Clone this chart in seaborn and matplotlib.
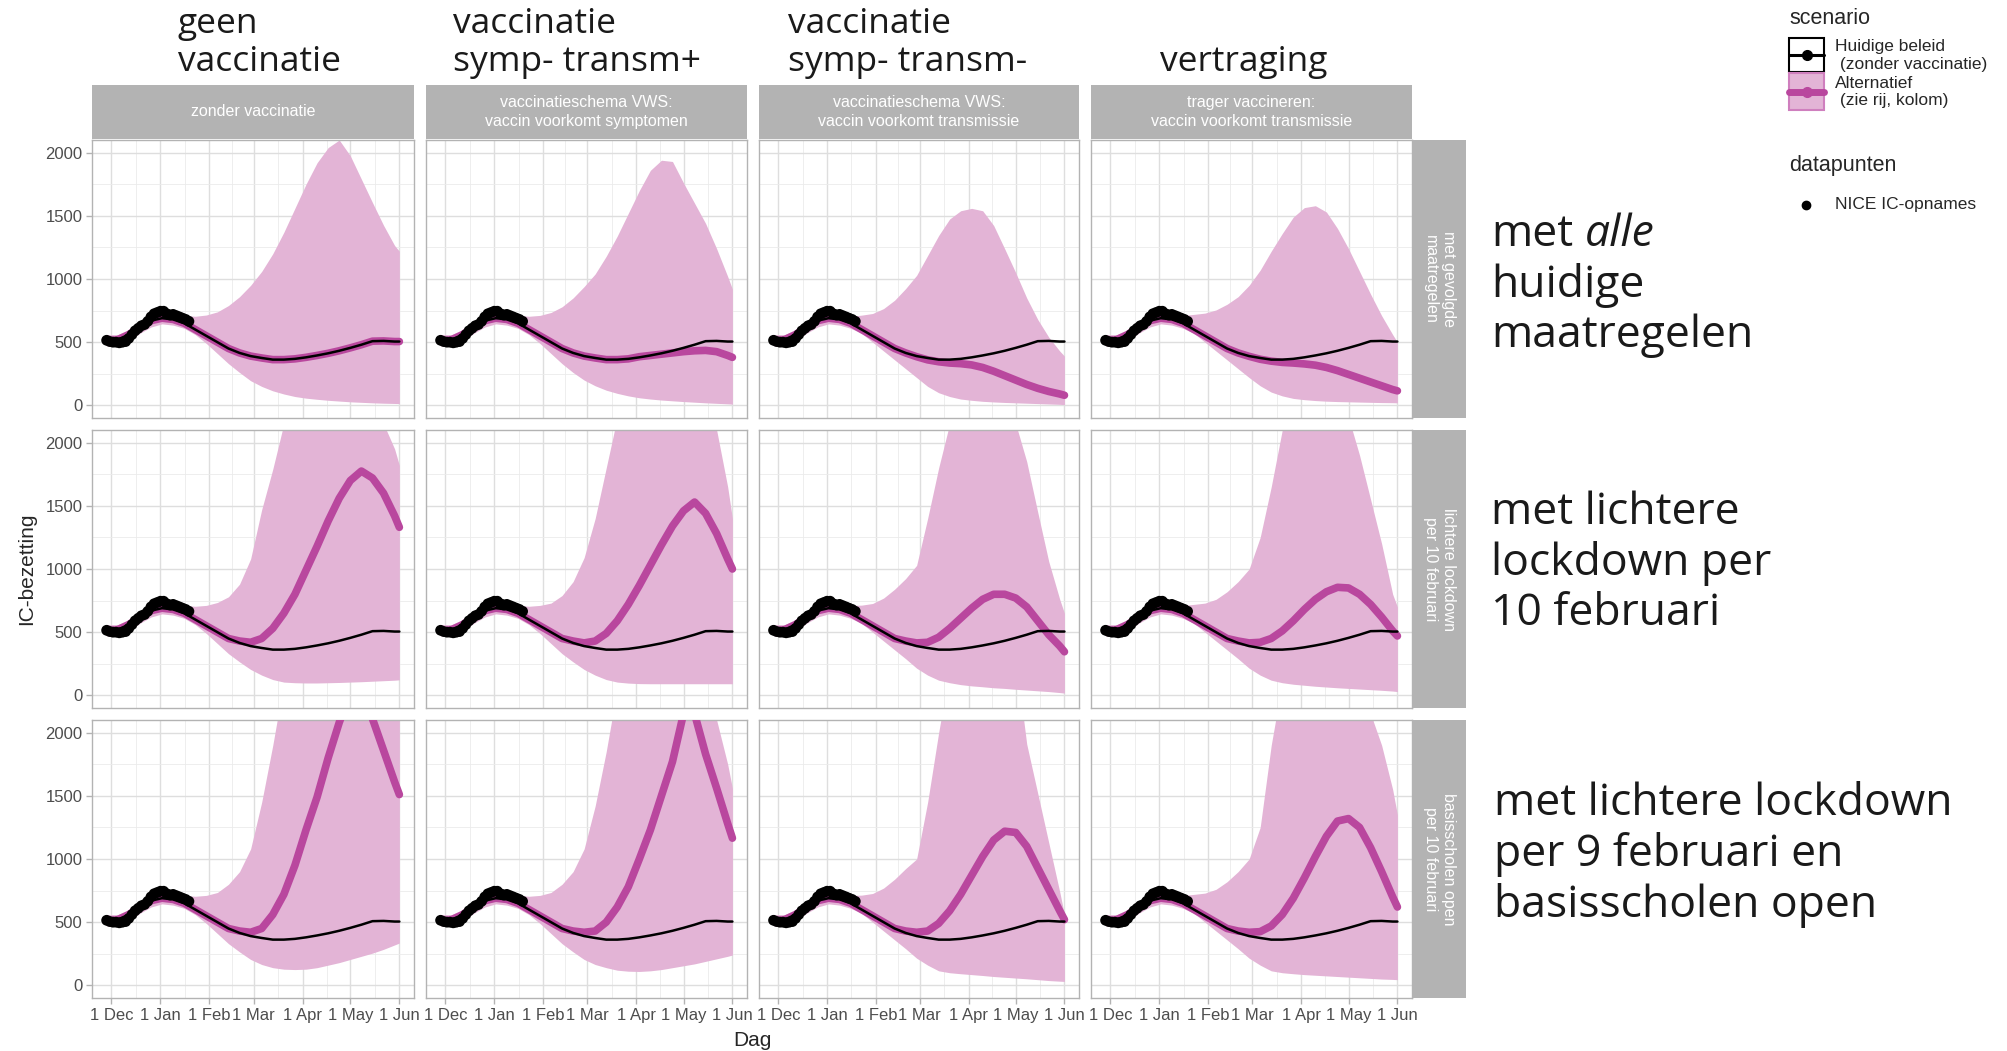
"""
IC-bezetting scenario's: 3 x 4 facetten, band + mediaan + NICE-punten.
"""
import numpy as np
import pandas as pd
import matplotlib
matplotlib.use("Agg")
import matplotlib.pyplot as plt
import matplotlib.patches as mpatches
import seaborn as sns

W, H = 2007, 1051
BAND = "#E3B4D6"
ALT = "#B9479E"
STRIP = "#B3B3B3"
BORDER = "#B3B3B3"

# ---- data ---------------------------------------------------------------
dates = pd.to_datetime([
    "2020-11-28", "2020-12-05", "2020-12-12", "2020-12-19", "2020-12-26",
    "2021-01-02", "2021-01-09", "2021-01-16", "2021-01-23", "2021-01-30",
    "2021-02-06", "2021-02-13", "2021-02-20", "2021-02-27", "2021-03-06",
    "2021-03-13", "2021-03-20", "2021-03-27", "2021-04-03", "2021-04-10",
    "2021-04-17", "2021-04-24", "2021-05-01", "2021-05-08", "2021-05-15",
    "2021-05-22", "2021-05-29", "2021-06-01"])

black_line = [510, 520, 560, 620, 670, 690, 680, 650, 600, 550, 500, 450, 415, 390,
              375, 362, 362, 368, 380, 395, 412, 432, 455, 480, 508, 510, 505, 505]

nice_values = [515, 505, 500, 500, 495, 500, 505, 530, 560, 590, 610, 630, 640, 665,
               700, 725, 735, 745, 745, 725, 715, 720, 710, 700, 690, 680, 665]
nice_dates = pd.date_range("2020-11-28", periods=len(nice_values), freq="2D")

# rij 1: met gevolgde maatregelen
hi_11 = [560, 560, 600, 665, 715, 735, 725, 712, 705, 715, 740, 790, 860, 950, 1060, 1200,
         1370, 1560, 1750, 1920, 2040, 2100, 1975, 1790, 1605, 1425, 1265, 1220]
lo_11 = [470, 470, 510, 570, 620, 645, 635, 610, 560, 490, 410, 330, 260, 195, 150, 115,
         90, 70, 57, 48, 40, 34, 28, 24, 20, 17, 15, 14]
alt_11 = black_line
hi_12 = [560, 560, 600, 665, 715, 735, 725, 712, 705, 712, 735, 780, 850, 940, 1040, 1180,
         1340, 1520, 1700, 1860, 1940, 1930, 1760, 1600, 1440, 1240, 1020, 920]
lo_12 = [470, 470, 510, 570, 620, 645, 635, 610, 560, 490, 410, 330, 260, 200, 155, 120,
         95, 75, 60, 50, 42, 36, 30, 25, 20, 16, 12, 10]
alt_12 = black_line[:18] + [385, 395, 405, 415, 425, 432, 435, 425, 395, 380]
hi_13 = [560, 560, 600, 665, 715, 735, 725, 705, 714, 727, 766, 832, 924, 1029, 1186, 1344,
         1475, 1540, 1559, 1540, 1423, 1239, 1050, 850, 680, 540, 430, 390]
lo_13 = [470, 470, 510, 570, 620, 645, 635, 610, 570, 500, 430, 360, 290, 220, 150, 100,
         70, 50, 40, 32, 27, 23, 20, 17, 14, 11, 8, 6]
alt_13 = black_line[:13] + [385, 360, 345, 335, 330, 320, 300, 270, 235, 200, 165, 135,
                            110, 90, 80]
hi_14 = [560, 560, 600, 665, 715, 735, 725, 712, 720, 730, 755, 800, 860, 950, 1070, 1220,
         1360, 1490, 1565, 1580, 1530, 1400, 1240, 1060, 880, 710, 560, 500]
lo_14 = [470, 470, 510, 570, 620, 645, 635, 610, 570, 500, 430, 360, 290, 220, 155, 105,
         75, 55, 45, 38, 33, 30, 28, 26, 24, 22, 21, 20]
alt_14 = black_line[:13] + [388, 365, 350, 340, 335, 328, 318, 300, 275, 245, 215, 185,
                            155, 125, 115]

# rij 2: lichtere lockdown per 10 februari
hi_21 = [560, 560, 600, 665, 715, 735, 725, 712, 705, 712, 735, 780, 880, 1080, 1470, 1790,
         2150, 2600, 3000, 3300, 3500, 3500, 3300, 2900, 2500, 2150, 1950, 1820]
lo_21 = [470, 470, 510, 570, 620, 645, 635, 610, 560, 490, 410, 330, 265, 205, 160, 125,
         105, 100, 98, 98, 100, 102, 105, 108, 112, 116, 120, 123]
alt_21 = black_line[:12] + [430, 420, 450, 530, 650, 800, 990, 1180, 1380, 1560, 1700,
                            1775, 1720, 1600, 1420, 1330]
hi_22 = [560, 560, 600, 665, 715, 735, 725, 712, 705, 712, 730, 790, 900, 1090, 1400, 1800,
         2200, 2600, 3000, 3300, 3400, 3300, 3000, 2600, 2300, 2100, 1650, 1400]
lo_22 = [470, 470, 510, 570, 620, 645, 635, 610, 560, 490, 410, 330, 265, 205, 160, 125,
         105, 97, 93, 92, 92, 92, 92, 92, 92, 92, 92, 92]
alt_22 = black_line[:12] + [430, 415, 430, 490, 590, 720, 870, 1030, 1190, 1340, 1460,
                            1530, 1440, 1280, 1080, 1000]
hi_23 = [560, 560, 600, 665, 715, 735, 725, 712, 714, 727, 770, 840, 924, 1029, 1400, 1800,
         2150, 2600, 3000, 3200, 3100, 2700, 2150, 1850, 1450, 1060, 760, 650]
lo_23 = [470, 470, 510, 570, 620, 645, 635, 610, 570, 500, 430, 360, 290, 215, 160, 120,
         100, 85, 75, 68, 60, 55, 48, 42, 36, 30, 22, 18]
alt_23 = black_line[:12] + [430, 415, 420, 460, 530, 610, 690, 760, 800, 800, 770, 700,
                            590, 480, 390, 345]
hi_24 = [560, 560, 600, 665, 715, 735, 725, 712, 720, 730, 760, 820, 900, 1000, 1250, 1650,
         2100, 2600, 3000, 3200, 3100, 2800, 2200, 1900, 1550, 1200, 800, 700]
lo_24 = [470, 470, 510, 570, 620, 645, 635, 610, 570, 500, 430, 360, 290, 215, 160, 120,
         100, 88, 80, 72, 66, 60, 55, 50, 45, 40, 34, 30]
alt_24 = black_line[:12] + [430, 415, 420, 450, 510, 590, 680, 760, 820, 855, 850, 800,
                            720, 620, 510, 470]

# rij 3: basisscholen open per 10 februari
hi_31 = [560, 560, 600, 665, 715, 735, 725, 712, 705, 712, 735, 800, 900, 1080, 1450, 1900,
         2400, 2900, 3300, 3600, 3800, 3900, 3900, 3800, 3700, 3500, 3300, 3200]
lo_31 = [470, 470, 510, 570, 620, 645, 635, 610, 560, 490, 410, 330, 265, 205, 165, 140,
         128, 125, 128, 140, 160, 180, 205, 230, 255, 285, 320, 335]
alt_31 = black_line[:12] + [430, 420, 450, 560, 720, 950, 1230, 1490, 1800, 2080, 2320,
                            2330, 2110, 1860, 1610, 1510]
hi_32 = [560, 560, 600, 665, 715, 735, 725, 712, 705, 712, 735, 800, 900, 1080, 1420, 1850,
         2350, 2800, 3200, 3400, 3500, 3400, 3200, 2900, 2500, 2100, 1750, 1560]
lo_32 = [470, 470, 510, 570, 620, 645, 635, 610, 560, 490, 410, 330, 265, 205, 165, 140,
         120, 112, 110, 115, 125, 140, 155, 170, 190, 210, 230, 240]
alt_32 = black_line[:12] + [430, 420, 430, 500, 620, 780, 1000, 1230, 1500, 1770, 2150,
                            2150, 1830, 1560, 1280, 1165]
hi_33 = [560, 560, 600, 665, 715, 735, 725, 712, 714, 727, 770, 840, 924, 1000, 1450, 2000,
         2500, 2900, 3200, 3400, 3400, 3100, 2600, 1910, 1520, 1130, 740, 560]
lo_33 = [470, 470, 510, 570, 620, 645, 635, 610, 570, 500, 430, 360, 290, 215, 160, 115,
         100, 92, 85, 78, 70, 64, 58, 52, 45, 38, 33, 31]
alt_33 = black_line[:12] + [430, 420, 430, 490, 590, 720, 870, 1020, 1150, 1220, 1210,
                            1100, 930, 760, 590, 520]
hi_34 = [560, 560, 600, 665, 715, 735, 725, 712, 720, 730, 760, 820, 900, 1000, 1250, 1900,
         2400, 2800, 3100, 3300, 3400, 3300, 3000, 2600, 2150, 1900, 1550, 1350]
lo_34 = [470, 470, 510, 570, 620, 645, 635, 610, 570, 500, 430, 360, 290, 215, 160, 115,
         100, 92, 85, 80, 75, 70, 65, 60, 55, 50, 47, 45]
alt_34 = black_line[:12] + [430, 420, 425, 470, 560, 690, 850, 1020, 1180, 1300, 1320,
                            1250, 1090, 900, 700, 620]

tick_dates = pd.to_datetime(["2020-12-01", "2021-01-01", "2021-02-01", "2021-03-01",
                             "2021-04-01", "2021-05-01", "2021-06-01"])
tick_labels = ["1 Dec", "1 Jan", "1 Feb", "1 Mar", "1 Apr", "1 May", "1 Jun"]
y_ticks = [0, 500, 1000, 1500, 2000]
y_minor = [250, 750, 1250, 1750]

col_titles = ["zonder vaccinatie",
              "vaccinatieschema VWS:\nvaccin voorkomt symptomen",
              "vaccinatieschema VWS:\nvaccin voorkomt transmissie",
              "trager vaccineren:\nvaccin voorkomt transmissie"]
row_titles = ["met gevolgde\nmaatregelen",
              "lichtere lockdown\nper 10 februari",
              "basisscholen open\nper 10 februari"]

panels = {
    (0, 0): (lo_11, hi_11, alt_11), (0, 1): (lo_12, hi_12, alt_12),
    (0, 2): (lo_13, hi_13, alt_13), (0, 3): (lo_14, hi_14, alt_14),
    (1, 0): (lo_21, hi_21, alt_21), (1, 1): (lo_22, hi_22, alt_22),
    (1, 2): (lo_23, hi_23, alt_23), (1, 3): (lo_24, hi_24, alt_24),
    (2, 0): (lo_31, hi_31, alt_31), (2, 1): (lo_32, hi_32, alt_32),
    (2, 2): (lo_33, hi_33, alt_33), (2, 3): (lo_34, hi_34, alt_34),
}

# ---- layout (pixels) ----------------------------------------------------
col_x = [(92, 414), (426, 747), (759, 1079), (1091, 1412)]
row_y = [(140, 418), (430, 708), (720, 998)]
strip_top = (85, 139)
strip_right = (1413, 1466)


def px_box(x0, y0, x1, y1):
    return [x0 / W, 1 - y1 / H, (x1 - x0) / W, (y1 - y0) / H]


sns.set_theme(style="white")
plt.rcParams["font.family"] = ["Liberation Sans", "DejaVu Sans"]

fig = plt.figure(figsize=(W / 100, H / 100), dpi=100)

x_minor = [tick_dates[i] + (tick_dates[i + 1] - tick_dates[i]) / 2
           for i in range(len(tick_dates) - 1)]

for r in range(3):
    for c in range(4):
        lo, hi, alt = panels[(r, c)]
        ax = fig.add_axes(px_box(col_x[c][0], row_y[r][0], col_x[c][1], row_y[r][1]))
        ax.fill_between(dates, lo, hi, color=BAND, lw=0, zorder=2)
        sns.lineplot(x=dates, y=alt, ax=ax, color=ALT, linewidth=5.5, zorder=3)
        sns.lineplot(x=dates, y=black_line, ax=ax, color="black", linewidth=1.8, zorder=4)
        sns.scatterplot(x=nice_dates, y=nice_values, ax=ax, color="black", s=60,
                        edgecolor="none", zorder=5)
        ax.set_xlim(pd.Timestamp("2020-11-18 18:00"), pd.Timestamp("2021-06-10 06:00"))
        ax.set_ylim(-100, 2100)
        ax.set_xticks(tick_dates)
        ax.set_xticks(x_minor, minor=True)
        ax.set_yticks(y_ticks)
        ax.set_yticks(y_minor, minor=True)
        ax.grid(True, which="major", color="#DEDEDE", lw=1.0)
        ax.grid(True, which="minor", color="#EBEBEB", lw=0.6)
        ax.set_axisbelow(True)
        ax.set_xlabel("")
        ax.set_ylabel("")
        for sp in ax.spines.values():
            sp.set_visible(True)
            sp.set_color(BORDER)
            sp.set_linewidth(1.0)
        ax.tick_params(which="minor", length=0)
        ax.tick_params(axis="y", which="major", left=(c == 0), labelleft=(c == 0),
                       length=4, width=1, color=BORDER, labelsize=12,
                       labelcolor="#4D4D4D", pad=3)
        ax.tick_params(axis="x", which="major", bottom=(r == 2), labelbottom=(r == 2),
                       length=4, width=1, color=BORDER, labelsize=12,
                       labelcolor="#4D4D4D", pad=3)
        ax.set_xticklabels(tick_labels)
        ax.set_yticklabels([str(v) for v in y_ticks])


def strip(x0, y0, x1, y1, label, rotation=0):
    sax = fig.add_axes(px_box(x0, y0, x1, y1))
    sax.set_facecolor(STRIP)
    for sp in sax.spines.values():
        sp.set_visible(False)
    sax.set_xticks([])
    sax.set_yticks([])
    sax.text(0.5, 0.5, label, ha="center", va="center", rotation=rotation,
             color="white", fontsize=11.5, linespacing=1.3, transform=sax.transAxes)


for c in range(4):
    strip(col_x[c][0], strip_top[0], col_x[c][1], strip_top[1], col_titles[c])
for r in range(3):
    strip(strip_right[0], row_y[r][0], strip_right[1], row_y[r][1], row_titles[r],
          rotation=-90)

# ---- overlay for annotations and legend -----------------------------------
ov = fig.add_axes([0, 0, 1, 1])
ov.set_xlim(0, W)
ov.set_ylim(H, 0)
ov.axis("off")

big = dict(family=["Open Sans", "DejaVu Sans"], color="#1A1A1A", va="baseline")
ov.text(178, 33, "geen", fontsize=25.5, **big)
ov.text(178, 71, "vaccinatie", fontsize=25.5, **big)
ov.text(453, 33, "vaccinatie", fontsize=25.5, **big)
ov.text(453, 71, "symp- transm+", fontsize=25.5, **big)
ov.text(788, 33, "vaccinatie", fontsize=25.5, **big)
ov.text(788, 71, "symp- transm-", fontsize=25.5, **big)
ov.text(1160, 71, "vertraging", fontsize=25.5, **big)

t_met = ov.text(1491, 246, "met", fontsize=32, **big)
fig.canvas.draw()
bb = t_met.get_window_extent(renderer=fig.canvas.get_renderer())
x_end = ov.transData.inverted().transform((bb.x1, bb.y0))[0]
ov.text(x_end + 32 * 1.389 * 0.27, 246, "alle", fontsize=32, style="italic", **big)
ov.text(1491, 297, "huidige", fontsize=32, **big)
ov.text(1491, 347, "maatregelen", fontsize=32, **big)
ov.text(1491, 524, "met lichtere", fontsize=32, **big)
ov.text(1491, 575, "lockdown per", fontsize=32, **big)
ov.text(1491, 625, "10 februari", fontsize=32, **big)
ov.text(1494, 815, "met lichtere lockdown", fontsize=32, **big)
ov.text(1494, 866, "per 9 februari en", fontsize=32, **big)
ov.text(1494, 917, "basisscholen open", fontsize=32, **big)

ov.text(27, 569, "IC-bezetting", rotation=90, ha="center", va="center", fontsize=15)
ov.text(752, 1040, "Dag", ha="center", va="center", fontsize=15)

# legend
ov.text(1789, 24, "scenario", fontsize=15.5, va="baseline")
ov.add_patch(mpatches.Rectangle((1789, 38), 35, 34, fc="white", ec="black", lw=1.5))
ov.plot([1789, 1824], [55, 55], color="black", lw=2.2)
ov.plot([1806.5], [55], "o", color="black", ms=7)
ov.add_patch(mpatches.Rectangle((1789, 73), 35, 37, fc=BAND, ec="#CF7FBE", lw=1.5))
ov.plot([1789, 1824], [91.5, 91.5], color=ALT, lw=5)
ov.plot([1806.5], [91.5], "o", color=ALT, ms=7)
ov.text(1835, 47, "Huidige beleid", fontsize=12.5, va="center")
ov.text(1835, 65, " (zonder vaccinatie)", fontsize=12.5, va="center")
ov.text(1835, 83, "Alternatief", fontsize=12.5, va="center")
ov.text(1835, 101, " (zie rij, kolom)", fontsize=12.5, va="center")
ov.text(1789, 166, "datapunten", fontsize=15.5, va="center")
ov.plot([1806], [205], "o", color="black", ms=6)
ov.text(1835, 205, "NICE IC-opnames", fontsize=12.5, va="center")

plt.savefig("out.png", dpi=100)
plt.close()
